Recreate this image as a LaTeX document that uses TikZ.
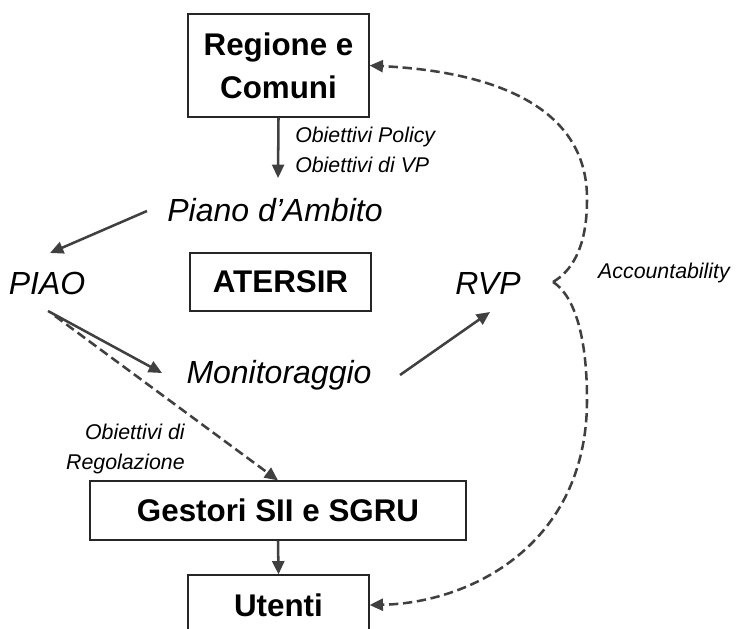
\documentclass[tikz,border=0pt]{standalone}
\usepackage{fontspec}
\setmainfont{Liberation Sans}
\usetikzlibrary{arrows.meta,calc}
\begin{document}
\begin{tikzpicture}[x=0.75pt,y=-0.75pt,
  box/.style={draw=black!85,line width=0.9pt,font=\fontsize{23.5}{32}\selectfont\bfseries,align=center,inner sep=0pt},
  lbl/.style={font=\fontsize{24}{28}\selectfont\itshape,inner sep=0pt},
  small/.style={font=\fontsize{16}{22}\selectfont\itshape,inner sep=0pt},
  arr/.style={draw=black!75,line width=1.9pt,-{Triangle[length=10pt,width=9pt]}},
  darr/.style={arr,dash pattern=on 7pt off 3.5pt}
]
\useasboundingbox (0,0) rectangle (738,628);
\clip (0,0) rectangle (738,628);
\node[box,minimum width=135.75pt,minimum height=77.25pt] (regione) at (278.5,65.5) {Regione e\\Comuni};
\node[box,minimum width=135.75pt,minimum height=43.5pt] (atersir) at (280.5,282) {ATERSIR};
\node[box,minimum width=282pt,minimum height=44.25pt] (gestori) at (278,510.5) {Gestori SII e SGRU};
\node[box,minimum width=135.75pt,minimum height=45pt] (utenti) at (278.5,605) {Utenti};
\node[lbl] (piano) at (275,210) {Piano d’Ambito};
\node[lbl] (piao) at (47,283) {PIAO};
\node[lbl] (rvp) at (488,283) {RVP};
\node[lbl] (monit) at (279,375) {Monitoraggio};
\node[small,anchor=west,align=left] (obpol) at (295,150) {Obiettivi Policy\\Obiettivi di VP};
\node[small,anchor=east,align=right] (obreg) at (185,449) {Obiettivi di\\Regolazione};
\node[small] (acc) at (664,273) {Accountability};
\coordinate (brace) at (553,282);

\draw[arr] (regione.south) -- ([shift={(3,-32)}]piano.center);
\draw[arr] ([shift={(-128,1)}]piano.center) -- ([shift={(3,-30)}]piao.center);
\draw[arr] ([shift={(1,28)}]piao.center) -- ([shift={(-117,-2)}]monit.center);
\draw[darr] ([shift={(8,33)}]piao.center) -- (gestori.north);
\draw[arr] ([shift={(121,0)}]monit.center) -- ([shift={(2,29)}]rvp.center);
\draw[arr] (gestori.south) -- (utenti.north);
\draw[darr] (brace) .. controls (570,272) and (587,250) .. (587,200) .. controls (588,110) and (500,72) .. (regione.east);
\draw[darr] (brace) .. controls (572,294) and (587,330) .. (587,400) .. controls (587,545) and (470,603) .. (utenti.east);
\end{tikzpicture}
\end{document}
